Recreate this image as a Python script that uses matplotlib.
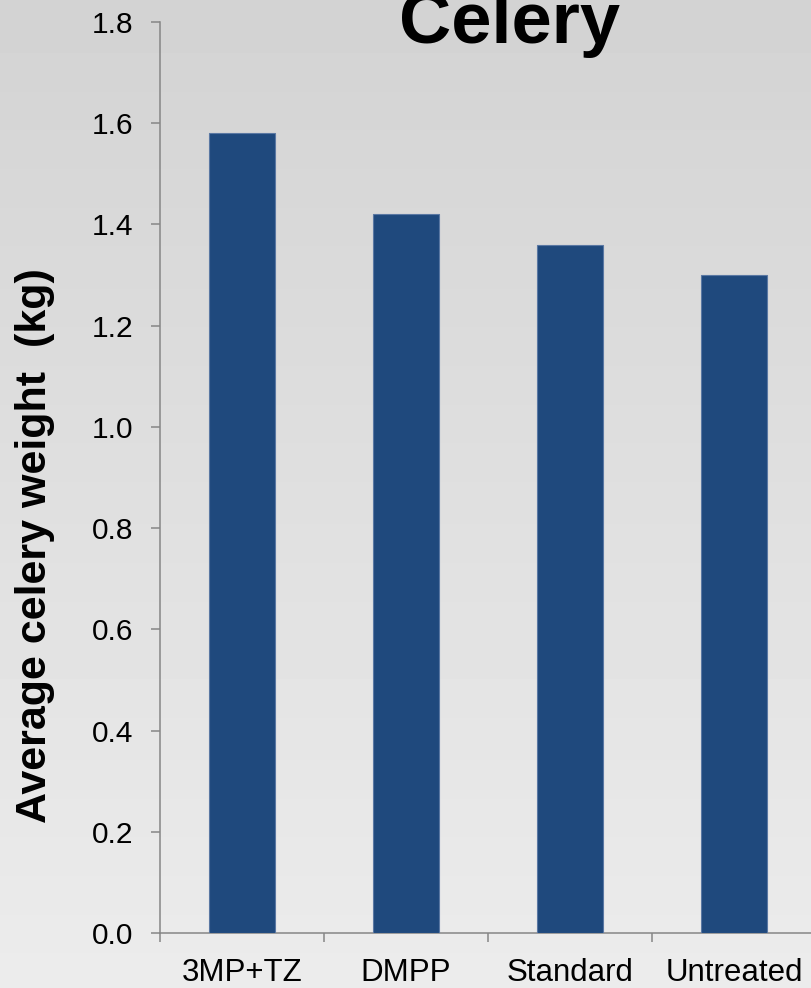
import matplotlib
matplotlib.use("Agg")
import matplotlib.pyplot as plt
import numpy as np

plt.rcParams['font.family'] = ['Liberation Sans', 'DejaVu Sans']

TITLE = 'Celery'
YLABEL = 'Average celery weight  (kg)'
TREATMENTS = ['3MP+TZ', 'DMPP', 'Standard', 'Untreated']
WEIGHTS = [1.58, 1.42, 1.36, 1.30]
YTICKS = [0.0, 0.2, 0.4, 0.6, 0.8, 1.0, 1.2, 1.4, 1.6, 1.8]

BAR_COLOR = '#1f497d'
AXIS_COLOR = '#868686'
W, H, DPI = 811, 988, 100

fig = plt.figure(figsize=(W / DPI, H / DPI), dpi=DPI)

# slide-style vertical gradient behind everything
bg = fig.add_axes([0, 0, 1, 1], zorder=-10)
grad = np.linspace(0.827, 0.925, 256).reshape(-1, 1)
bg.imshow(grad, aspect='auto', cmap='gray', vmin=0, vmax=1,
          extent=[0, 1, 0, 1], origin='upper')
bg.axis('off')

left, right = 160 / W, 816 / W
bottom, top = 1 - 933 / H, 1 - 22 / H
ax = fig.add_axes([left, bottom, right - left, top - bottom])
ax.set_facecolor('none')

x = np.arange(len(TREATMENTS))
ax.bar(x, WEIGHTS, width=0.4, color=BAR_COLOR, edgecolor='#5a78a3',
       linewidth=0.8, zorder=3)

ax.set_xlim(-0.5, len(TREATMENTS) - 0.5)
ax.set_ylim(0, 1.8)
ax.set_yticks(YTICKS)
ax.set_yticklabels(['{:.1f}'.format(v) for v in YTICKS])

# boundary ticks between categories, labels centred under the bars
ax.set_xticks(np.arange(-0.5, len(TREATMENTS)), labels=[])
ax.set_xticks(x, labels=TREATMENTS, minor=True)
ax.tick_params(axis='x', which='minor', length=0, pad=18, labelsize=22.5)
ax.tick_params(axis='x', which='major', length=6.5, width=1.1,
               color=AXIS_COLOR, direction='out')
ax.tick_params(axis='y', length=6.5, width=1.1, color=AXIS_COLOR,
               direction='out', pad=13, labelsize=21.5)

for side in ('top', 'right'):
    ax.spines[side].set_visible(False)
for side in ('left', 'bottom'):
    ax.spines[side].set_color(AXIS_COLOR)
    ax.spines[side].set_linewidth(1.1)

fig.text(35 / W, 1 - 546 / H, YLABEL, rotation=90, ha='center', va='center',
         fontsize=31, fontweight='bold')
fig.text(510 / W, 1 - 43 / H, TITLE, ha='center', va='baseline',
         fontsize=52, fontweight='bold')

fig.savefig('out.png', dpi=DPI)
